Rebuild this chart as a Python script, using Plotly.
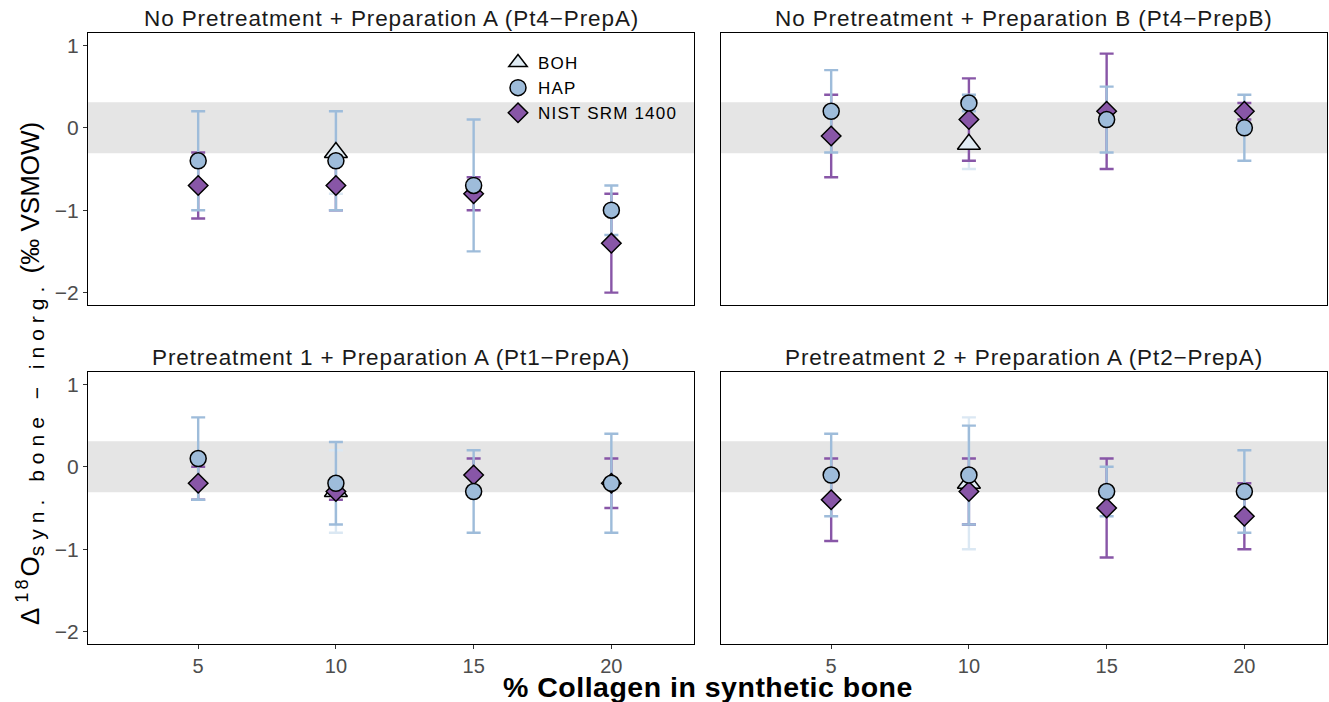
import plotly.graph_objects as go

# ---------------- data ----------------
collagen = [5, 10, 15, 20]
boh_x = [10]

panel_titles = [
    "No Pretreatment + Preparation A (Pt4\u2212PrepA)",
    "No Pretreatment + Preparation B (Pt4\u2212PrepB)",
    "Pretreatment 1 + Preparation A (Pt1\u2212PrepA)",
    "Pretreatment 2 + Preparation A (Pt2\u2212PrepA)",
]
series_names = ["BOH", "HAP", "NIST SRM 1400"]

# Pt4-PrepA
hap_pt4a = [-0.4, -0.4, -0.7, -1.0]
hap_pt4a_sd = [0.6, 0.6, 0.8, 0.3]
nist_pt4a = [-0.7, -0.7, -0.8, -1.4]
nist_pt4a_sd = [0.4, 0.3, 0.2, 0.6]
boh_pt4a = [-0.3]
boh_pt4a_sd = [0.5]

# Pt4-PrepB
hap_pt4b = [0.2, 0.3, 0.1, 0.0]
hap_pt4b_sd = [0.5, 0.1, 0.4, 0.4]
nist_pt4b = [-0.1, 0.1, 0.2, 0.2]
nist_pt4b_sd = [0.5, 0.5, 0.7, 0.1]
boh_pt4b = [-0.2]
boh_pt4b_sd = [0.3]

# Pt1-PrepA
hap_pt1a = [0.1, -0.2, -0.3, -0.2]
hap_pt1a_sd = [0.5, 0.5, 0.5, 0.6]
nist_pt1a = [-0.2, -0.3, -0.1, -0.2]
nist_pt1a_sd = [0.2, 0.1, 0.2, 0.3]
boh_pt1a = [-0.3]
boh_pt1a_sd = [0.5]

# Pt2-PrepA
hap_pt2a = [-0.1, -0.1, -0.3, -0.3]
hap_pt2a_sd = [0.5, 0.6, 0.3, 0.5]
nist_pt2a = [-0.4, -0.3, -0.5, -0.6]
nist_pt2a_sd = [0.5, 0.4, 0.6, 0.4]
boh_pt2a = [-0.2]
boh_pt2a_sd = [0.8]

band_half = 0.31
y_ticks = [1, 0, -1, -2]
y_tick_text = ["1", "0", "\u22121", "\u22122"]

panels = [
    (boh_pt4a, boh_pt4a_sd, hap_pt4a, hap_pt4a_sd, nist_pt4a, nist_pt4a_sd),
    (boh_pt4b, boh_pt4b_sd, hap_pt4b, hap_pt4b_sd, nist_pt4b, nist_pt4b_sd),
    (boh_pt1a, boh_pt1a_sd, hap_pt1a, hap_pt1a_sd, nist_pt1a, nist_pt1a_sd),
    (boh_pt2a, boh_pt2a_sd, hap_pt2a, hap_pt2a_sd, nist_pt2a, nist_pt2a_sd),
]

# ---------------- style ----------------
W, H = 1329, 702
FONT = "Liberation Sans, Arial, sans-serif"
C_BOH = "#e0ecf4"
C_BOH_BAR = "#dbe8f3"
C_HAP = "#9ebcda"
C_NIST = "#8856a7"


def spaced(txt, px):
    return f'<span style="letter-spacing:{px}px">{txt}</span>'


xdom = [(88 / W, 694 / W), (721 / W, 1327 / W)]
ydom = [(1 - 305 / H, 1 - 33 / H), (1 - 644 / H, 1 - 372 / H)]

fig = go.Figure()
layout_axes = {}

for i, (boh, boh_sd, hap, hap_sd, nist, nist_sd) in enumerate(panels):
    row, col = divmod(i, 2)
    n = i + 1
    xa = "x" if n == 1 else f"x{n}"
    ya = "y" if n == 1 else f"y{n}"
    first = i == 0

    def err(sd, color):
        return dict(type="data", array=sd, visible=True, color=color,
                    thickness=2.4, width=7)

    # error bars (underneath markers)
    for xs, ys, sd, colr in [(boh_x, boh, boh_sd, C_BOH_BAR),
                             (collagen, nist, nist_sd, C_NIST),
                             (collagen, hap, hap_sd, C_HAP)]:
        fig.add_trace(go.Scatter(
            x=xs, y=ys, mode="markers", xaxis=xa, yaxis=ya,
            marker=dict(size=1, color="rgba(0,0,0,0)"),
            error_y=err(sd, colr), showlegend=False, hoverinfo="skip"))

    # markers
    fig.add_trace(go.Scatter(
        x=boh_x, y=boh, mode="markers", xaxis=xa, yaxis=ya,
        name=spaced(series_names[0], 1.2), legendrank=1, showlegend=first,
        marker=dict(symbol="triangle-up", size=20, color=C_BOH,
                    line=dict(color="black", width=1.5))))
    fig.add_trace(go.Scatter(
        x=collagen, y=nist, mode="markers", xaxis=xa, yaxis=ya,
        name=spaced(series_names[2], 1.2), legendrank=3, showlegend=first,
        marker=dict(symbol="diamond", size=15, color=C_NIST,
                    line=dict(color="black", width=1.5))))
    fig.add_trace(go.Scatter(
        x=collagen, y=hap, mode="markers", xaxis=xa, yaxis=ya,
        name=spaced(series_names[1], 1.2), legendrank=2, showlegend=first,
        marker=dict(symbol="circle", size=16, color=C_HAP,
                    line=dict(color="black", width=1.5))))

    axkey = "xaxis" if n == 1 else f"xaxis{n}"
    aykey = "yaxis" if n == 1 else f"yaxis{n}"
    layout_axes[axkey] = dict(
        domain=list(xdom[col]), anchor=ya, range=[1, 23],
        tickvals=collagen, ticktext=[str(c) for c in collagen],
        showticklabels=(row == 1),
        ticks="outside" if row == 1 else "", ticklen=4, tickwidth=1,
        tickcolor="#333333",
        tickfont=dict(size=20, color="#4d4d4d", family=FONT),
        showgrid=False, zeroline=False,
        showline=True, mirror=True, linecolor="black", linewidth=1.4)
    layout_axes[aykey] = dict(
        domain=list(ydom[row]), anchor=xa, range=[-2.15, 1.15],
        tickvals=y_ticks, ticktext=y_tick_text,
        showticklabels=(col == 0),
        ticks="outside" if col == 0 else "", ticklen=4, tickwidth=1,
        tickcolor="#333333",
        tickfont=dict(size=21, color="#4d4d4d", family=FONT),
        showgrid=False, zeroline=False,
        showline=True, mirror=True, linecolor="black", linewidth=1.4)

    # grey band
    fig.add_shape(type="rect", xref=f"{xa} domain", yref=ya,
                  x0=0, x1=1, y0=-band_half, y1=band_half,
                  fillcolor="#e5e5e5", line=dict(width=0), layer="below")

    # strip title
    fig.add_annotation(
        text=spaced(panel_titles[i], 0.9), xref="paper", yref="paper",
        x=(xdom[col][0] + xdom[col][1]) / 2, y=ydom[row][1],
        xanchor="center", yanchor="bottom", yshift=0, showarrow=False,
        font=dict(size=22.5, color="#1a1a1a", family=FONT))

# axis titles
fig.add_annotation(
    text=spaced("% Collagen in synthetic bone", 0.5), xref="paper",
    yref="paper", x=(xdom[0][0] + xdom[1][1]) / 2, y=1 - 687 / H,
    xanchor="center", yanchor="middle", showarrow=False,
    font=dict(size=28.5, color="black", family=FONT, weight="bold"))

fig.add_annotation(
    text=('<span style="letter-spacing:5px">\u0394</span>'
          '<sup><span style="letter-spacing:3px">18</span></sup>O'
          '<sub><span style="font-size:21px;letter-spacing:6px">'
          'syn. bone \u2212 inorg.</span></sub>'
          ' (\u2030 VSMOW)'),
    xref="paper", yref="paper", x=30 / W, y=1 - 374 / H,
    xanchor="center", yanchor="middle", textangle=-90,
    showarrow=False, font=dict(size=26, color="black", family=FONT))

fig.update_layout(
    width=W, height=H, margin=dict(l=0, r=0, t=0, b=0),
    paper_bgcolor="white", plot_bgcolor="white",
    font=dict(family=FONT),
    legend=dict(x=498 / W, y=1 - 45 / H, xanchor="left", yanchor="top",
                bgcolor="rgba(0,0,0,0)", tracegroupgap=0,
                font=dict(size=17, color="black", family=FONT),
                itemsizing="trace"),
    **layout_axes)

fig.write_html("out.html")
